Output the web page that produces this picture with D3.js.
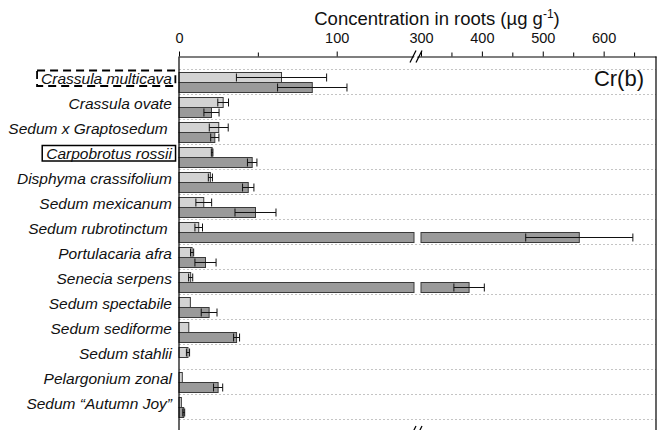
<!DOCTYPE html>
<html>
<head>
<meta charset="utf-8">
<script src="https://cdn.jsdelivr.net/npm/d3@7/dist/d3.min.js"></script>
<style>
  html, body { margin: 0; padding: 0; background: #fff; }
  svg { display: block; font-family: "Liberation Sans", Arial, Helvetica, sans-serif; }
</style>
</head>
<body>
<svg id="chart" width="662" height="430"></svg>
<script>
// Species, top to bottom
const categories = [
  "Crassula multicava",
  "Crassula ovate",
  "Sedum x Graptosedum\u00a0",
  "Carpobrotus rossii",
  "Disphyma crassifolium",
  "Sedum mexicanum",
  "Sedum rubrotinctum\u00a0",
  "Portulacaria afra",
  "Senecia serpens",
  "Sedum spectabile",
  "Sedum sediforme",
  "Sedum stahlii",
  "Pelargonium zonal",
  "Sedum \u201cAutumn Joy\u201d"
];

// Cr concentration in roots (µg g-1), first treatment (upper bar of each pair)
const valuesA = [65, 28, 25.2, 21, 19.9, 15.7, 12.5, 8.3, 7.4, 7.2, 6.2, 5.7, 2.1, 1.5];
const errorsA = [28.6, 3.4, 6, 0.5, 1.3, 5, 2.4, 1, 1.3, 0, 0, 1, 0, 0];

// second treatment (lower bar of each pair)
const valuesB = [84.5, 20.6, 22.7, 46.4, 43.9, 48.5, 560, 16.8, 379, 19.1, 36.5, null, 24.8, 3.0];
const errorsB = [22, 4.8, 2.6, 3, 3.6, 13, 88, 6.7, 25, 5, 1.9, 0, 2.9, 0.6];

// Axis ticks
const labelledTicks = [0, 100, 300, 400, 500, 600];
const minorTicks = [50, 350, 450, 550, 650];

// Labels drawn inside a frame
const dashedFrame = ["Crassula multicava"];
const solidFrame = ["Carpobrotus rossii"];

const panelTag = "Cr(b)";

// ---- layout ----
const svg = d3.select("#chart");
const left = 179, right = 656, axisY = 56.5, bottomY = 432;
const breakLow = 149, breakHigh = 300;

// Broken axis: 0–149 on the left piece, 300–686 on the right piece
const x = d3.scaleLinear()
  .domain([0, breakLow, breakHigh, 686])
  .range([left, 414, 421, right]);

const y = d3.scaleBand().domain(categories).range([69.5, 419.5]);
const sub = d3.scaleBand().domain(["A", "B"]).range([3, 23]);
const barH = sub.bandwidth();

// dotted row separators
const bounds = categories.map(c => y(c)).concat([y.range()[1]]);
svg.append("g").selectAll("line").data(bounds).join("line")
  .attr("x1", left).attr("x2", right)
  .attr("y1", d => d).attr("y2", d => d)
  .attr("stroke", "#c4c4c4").attr("stroke-width", 1)
  .attr("stroke-dasharray", "2,2");

// Split a value into drawable pieces either side of the axis break
function pieces(v) {
  if (v == null) return [];
  if (v <= breakLow) return [[0, v]];
  const out = [[0, breakLow]];
  if (v >= breakHigh) out.push([breakHigh, v]);
  return out;
}

const series = [
  { key: "A", values: valuesA, errors: errorsA, fill: "#d3d3d3" },
  { key: "B", values: valuesB, errors: errorsB, fill: "#9a9a9a" }
];

series.forEach(s => {
  const g = svg.append("g");
  const segs = [];
  categories.forEach((c, i) => {
    pieces(s.values[i]).forEach(p => segs.push({ c, p }));
  });
  g.selectAll("rect").data(segs).join("rect")
    .attr("x", d => x(d.p[0]))
    .attr("width", d => Math.max(0.8, x(d.p[1]) - x(d.p[0])))
    .attr("y", d => y(d.c) + sub(s.key))
    .attr("height", barH)
    .attr("fill", s.fill)
    .attr("stroke", "#3a3a3a")
    .attr("stroke-width", 1);

  const errs = categories.map((c, i) => ({ c, v: s.values[i], e: s.errors[i] }))
    .filter(d => d.v != null && d.e > 0);
  const eg = g.append("g").attr("stroke", "#111").attr("stroke-width", 1);
  errs.forEach(d => {
    const cy = y(d.c) + sub(s.key) + barH / 2;
    const x0 = x(d.v - d.e), x1 = x(d.v + d.e);
    eg.append("line").attr("x1", x0).attr("x2", x1).attr("y1", cy).attr("y2", cy);
    [x0, x1].forEach(xx => eg.append("line")
      .attr("x1", xx).attr("x2", xx)
      .attr("y1", cy - 4).attr("y2", cy + 4));
  });
});

// frame: left axis, right edge, bottom edge
const frame = svg.append("g").attr("stroke", "#000").attr("stroke-width", 1.2).attr("fill", "none");
frame.append("line").attr("x1", left).attr("x2", left).attr("y1", axisY).attr("y2", bottomY);
frame.append("line").attr("x1", right).attr("x2", right).attr("y1", axisY).attr("y2", bottomY);
frame.append("line").attr("x1", left).attr("x2", right).attr("y1", bottomY).attr("y2", bottomY);

// top axis
const axis = d3.axisTop(x)
  .tickValues(labelledTicks.concat(minorTicks).sort(d3.ascending))
  .tickFormat(d => labelledTicks.includes(d) ? d : "")
  .tickSize(5).tickSizeOuter(0).tickPadding(9);
const ag = svg.append("g").attr("transform", `translate(0,${axisY})`).call(axis);
ag.select(".domain").attr("stroke-width", 1.2);
ag.selectAll(".tick line").attr("stroke-width", 1)
  .attr("y2", d => labelledTicks.includes(d) ? -5 : -4);
ag.selectAll(".tick text")
  .attr("font-size", 14.5).attr("fill", "#111")
  .attr("font-family", "\"Liberation Sans\", Arial, sans-serif");

// break marks on the top and bottom edges
function breakMark(cy) {
  const cx = (x(breakLow) + x(breakHigh)) / 2;
  const g = svg.append("g");
  g.append("polygon")
    .attr("points", `${cx - 6},${cy + 6} ${cx},${cy - 6} ${cx + 3},${cy - 6} ${cx - 3},${cy + 6}`)
    .attr("fill", "#fff");
  [-4.5, 1.5].forEach(o => g.append("line")
    .attr("x1", cx + o - 3).attr("y1", cy + 6)
    .attr("x2", cx + o + 3).attr("y2", cy - 6)
    .attr("stroke", "#000").attr("stroke-width", 1.2));
}
breakMark(axisY);
breakMark(bottomY);

// axis title
const title = svg.append("text")
  .attr("x", 437).attr("y", 25)
  .attr("text-anchor", "middle")
  .attr("font-size", 18.5).attr("fill", "#111");
title.append("tspan").text("Concentration in roots (\u00b5g g");
title.append("tspan").attr("dy", -7).attr("font-size", 12).text("-1");
title.append("tspan").attr("dy", 7).text(")");

// species labels
const lg = svg.append("g");
const labels = lg.selectAll("text").data(categories).join("text")
  .attr("x", 172)
  .attr("y", d => y(d) + y.bandwidth() / 2 + 2)
  .attr("text-anchor", "end")
  .attr("font-size", 15.5)
  .attr("font-style", "italic")
  .attr("fill", "#111")
  .text(d => d);

labels.each(function (d) {
  const dashed = dashedFrame.includes(d), solid = solidFrame.includes(d);
  if (!dashed && !solid) return;
  const b = this.getBBox();
  lg.insert("rect", "text")
    .attr("x", b.x - 4).attr("y", b.y + 0.5)
    .attr("width", b.width + 7).attr("height", b.height - 1.5)
    .attr("fill", "none").attr("stroke", "#000")
    .attr("stroke-width", dashed ? 1.8 : 1.5)
    .attr("stroke-dasharray", dashed ? "8,5" : null);
});

// panel tag
svg.append("text")
  .attr("x", 644).attr("y", 86)
  .attr("text-anchor", "end")
  .attr("font-size", 22).attr("fill", "#111")
  .text(panelTag);
</script>
</body>
</html>
